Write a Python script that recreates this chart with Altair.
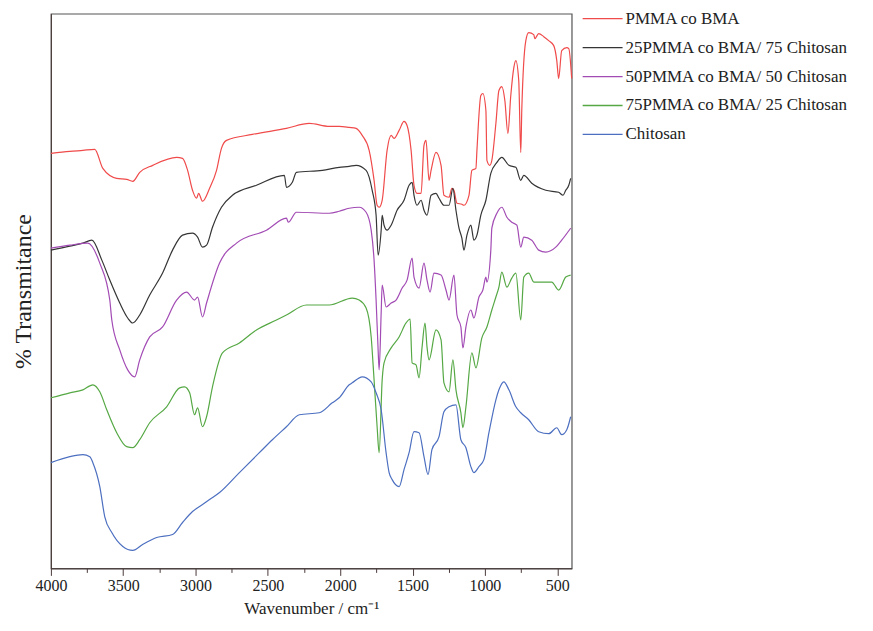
import altair as alt
import pandas as pd

names = ["PMMA co BMA", "25PMMA co BMA/ 75 Chitosan", "50PMMA co BMA/ 50 Chitosan",
         "75PMMA co BMA/ 25 Chitosan", "Chitosan"]
colors = ["#f04a4a", "#353535", "#a24bb4", "#55a844", "#4c6fc0"]

# wavenumbers (cm-1) and offset transmittance (arbitrary units)
red_wn = [4000, 3869, 3779, 3697, 3641, 3545, 3476, 3434, 3386, 3296, 3131, 3090, 3055, 3021, 2993, 2979,
          2952, 2903, 2855, 2821, 2786, 2607, 2372, 2214, 2076, 2007, 1938, 1890, 1848, 1800, 1766, 1745,
          1731, 1710, 1676, 1648, 1628, 1593, 1559, 1538, 1510, 1490, 1469, 1441, 1421, 1407, 1386, 1372,
          1338, 1303, 1283, 1248, 1228, 1214, 1193, 1159, 1145, 1110, 1090, 1062, 1055, 1028, 1014, 993,
          986, 966, 952, 924, 903, 883, 862, 841, 821, 800, 786, 766, 752, 745, 717, 697, 662, 655, 628,
          593, 559, 524, 503, 490, 469, 434, 420, 400]
red_t = [416, 418, 419, 420, 401, 391, 390, 388, 397, 404, 412, 411, 399, 379, 371, 376,
         368, 381, 399, 421, 429, 435, 441, 446, 443, 443, 442, 441, 434, 419, 389, 364,
         362, 369, 419, 434, 431, 439, 448, 444, 419, 384, 376, 376, 424, 429, 389, 399,
         417, 404, 374, 372, 381, 379, 366, 365, 364, 374, 399, 401, 419, 474, 476, 459,
         409, 404, 409, 446, 479, 483, 469, 436, 474, 502, 509, 489, 417, 459, 529, 537, 535, 531, 536,
         533, 529, 524, 509, 491, 519, 522, 521, 491]

blk_wn = [4000, 3869, 3779, 3717, 3648, 3593, 3524, 3469, 3434, 3386, 3317, 3228, 3159, 3090, 3021, 2986,
          2952, 2924, 2883, 2821, 2745, 2579, 2386, 2372, 2331, 2303, 2124, 2007, 1938, 1890, 1821, 1779,
          1752, 1738, 1717, 1710, 1697, 1676, 1648, 1607, 1559, 1524, 1503, 1490, 1469, 1441, 1421, 1400,
          1372, 1338, 1317, 1283, 1248, 1221, 1200, 1179, 1159, 1145, 1124, 1097, 1076, 1055, 1028, 993,
          959, 917, 883, 834, 786, 752, 731, 676, 579, 490, 460, 441, 420, 407]
blk_t = [319, 323, 326, 329, 309, 289, 266, 251, 246, 254, 274, 296, 319, 334, 336, 332,
         322, 324, 342, 362, 374, 384, 394, 382, 387, 397, 399, 402, 403, 404, 399, 379,
         354, 314, 339, 354, 344, 339, 344, 359, 369, 384, 387, 374, 364, 369, 359, 354,
         374, 376, 371, 364, 364, 381, 359, 341, 331, 319, 334, 344, 329, 334, 354, 369,
         396, 407, 412, 404, 402, 389, 394, 386, 379, 377, 374, 379, 384, 391]

pur_wn = [4000, 3869, 3745, 3662, 3593, 3579, 3524, 3469, 3421, 3386, 3317, 3228, 3131, 3062, 3007, 2986,
          2952, 2924, 2834, 2717, 2510, 2372, 2359, 2303, 2076, 2007, 1938, 1869, 1821, 1786, 1766, 1752,
          1738, 1731, 1717, 1710, 1683, 1648, 1614, 1572, 1538, 1503, 1490, 1455, 1421, 1400, 1379, 1352,
          1303, 1269, 1248, 1214, 1193, 1166, 1152, 1131, 1097, 1076, 1041, 1014, 993, 986, 959, 952,
          917, 883, 848, 814, 779, 752, 731, 676, 628, 579, 510, 469, 407]
pur_t = [321, 324, 326, 306, 269, 249, 219, 199, 192, 209, 232, 242, 269, 277, 269, 272,
         252, 266, 306, 326, 339, 351, 347, 357, 356, 358, 361, 362, 357, 339, 309, 269,
         219, 199, 256, 284, 262, 266, 269, 281, 289, 311, 292, 281, 306, 289, 277, 296,
         294, 279, 269, 294, 254, 242, 221, 242, 259, 251, 272, 279, 292, 287, 319, 341,
         356, 362, 352, 347, 344, 322, 332, 329, 319, 317, 322, 329, 341]

grn_wn = [4000, 3869, 3779, 3710, 3662, 3614, 3545, 3476, 3434, 3386, 3317, 3200, 3110, 3076, 3041, 3007,
          2986, 2952, 2924, 2883, 2814, 2697, 2579, 2441, 2372, 2234, 2076, 1917, 1869, 1821, 1786, 1766,
          1745, 1731, 1710, 1697, 1648, 1593, 1545, 1517, 1503, 1476, 1455, 1434, 1414, 1400, 1386, 1338,
          1303, 1283, 1248, 1221, 1200, 1166, 1152, 1131, 1090, 1062, 1021, 986, 952, 924, 903, 883,
          848, 814, 786, 752, 731, 697, 662, 579, 538, 490, 441, 407]
grn_t = [171, 176, 179, 184, 177, 159, 136, 122, 121, 129, 146, 162, 181, 182, 176, 154,
         161, 142, 152, 182, 216, 226, 239, 249, 254, 264, 264, 271, 269, 261, 232, 189,
         142, 116, 189, 206, 221, 232, 246, 250, 206, 204, 191, 222, 246, 222, 209, 239,
         229, 186, 177, 209, 179, 156, 141, 162, 216, 201, 231, 242, 259, 272, 282, 297,
         282, 291, 296, 249, 292, 296, 287, 287, 287, 279, 292, 294]

blu_wn = [4000, 3869, 3779, 3731, 3710, 3662, 3628, 3579, 3503, 3434, 3366, 3269, 3159, 3090, 3021, 2952,
          2903, 2834, 2697, 2559, 2469, 2372, 2283, 2145, 2055, 2007, 1938, 1917, 1848, 1786, 1752, 1717,
          1683, 1662, 1641, 1593, 1559, 1524, 1490, 1455, 1421, 1393, 1366, 1317, 1283, 1248, 1200, 1166,
          1131, 1097, 1076, 1041, 1007, 972, 924, 903, 869, 834, 786, 752, 697, 628, 559, 503, 469, 434, 407]
blu_t = [106, 112, 114, 112, 106, 82, 52, 36, 22, 18, 24, 31, 34, 46, 57, 64,
         69, 76, 96, 116, 129, 142, 154, 156, 166, 171, 184, 186, 192, 187, 176, 159,
         116, 96, 89, 82, 99, 116, 137, 136, 112, 94, 119, 132, 157, 162, 164, 129,
         121, 102, 96, 102, 109, 136, 169, 179, 187, 179, 162, 156, 149, 137, 135, 141, 134, 139, 152]

series = [(red_wn, red_t), (blk_wn, blk_t), (pur_wn, pur_t), (grn_wn, grn_t), (blu_wn, blu_t)]
rows = []
for name, (wn, t) in zip(names, series):
    for order, (a, b) in enumerate(zip(wn, t)):
        rows.append({"wn": a, "T": b, "sample": name, "order": order})
df = pd.DataFrame(rows)

tick_values = list(range(500, 4001, 250))
serif = "Liberation Serif"
frame = "#4a3a3a"

chart = alt.Chart(df).mark_line(strokeWidth=1.2, interpolate="monotone").encode(
    x=alt.X("wn:Q", title="Wavenumber / cm⁻¹",
            scale=alt.Scale(domain=[400, 4000], reverse=True, nice=False, zero=False),
            axis=alt.Axis(values=tick_values, grid=False,
                          labelExpr="datum.value % 500 == 0 ? datum.label : ''",
                          format="d",
                          tickSize={"condition": {"test": "datum.value % 500 == 0", "value": 7}, "value": 4},
                          labelFont=serif, labelFontSize=16, labelColor="#222", labelPadding=2,
                          titleFont=serif, titleFontSize=17, titleFontWeight="normal", titleColor="#222",
                          titlePadding=7, domainColor=frame, tickColor=frame, labelFlush=False)),
    y=alt.Y("T:Q", title="% Transmitance",
            scale=alt.Scale(domain=[0, 556], nice=False, zero=False),
            axis=alt.Axis(labels=False, ticks=False, grid=False, titleFont=serif, titleFontSize=24,
                          titleFontWeight="normal", titleColor="#222", titlePadding=15,
                          domainColor=frame)),
    color=alt.Color("sample:N", sort=names,
                    scale=alt.Scale(domain=names, range=colors),
                    legend=alt.Legend(title=None, orient="none", legendX=532, legendY=-16,
                                      symbolType="stroke", symbolSize=1600, symbolStrokeWidth=1.3,
                                      labelFont=serif, labelFontSize=17, labelColor="#222",
                                      labelLimit=400, rowPadding=-13, labelOffset=2)),
    detail="sample:N",
    order="order:Q",
).properties(
    width=522, height=556,
    autosize=alt.AutoSizeParams(type="none"),
    padding={"left": 43, "top": 5, "right": 294, "bottom": 48},
).configure_view(stroke="#555", strokeWidth=1.2)

chart.save("out.html", embed_options={"renderer": "svg", "actions": False})
